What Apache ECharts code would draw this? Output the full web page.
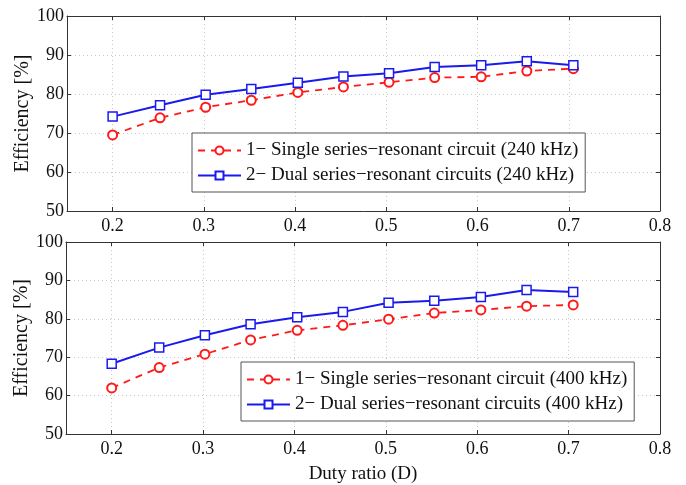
<!DOCTYPE html>
<html>
<head>
<meta charset="utf-8">
<script src="https://cdn.jsdelivr.net/npm/echarts@6/dist/echarts.min.js"></script>
<style>
  html, body { margin: 0; padding: 0; background: #fff; }
  #chart { width: 686px; height: 485px; }
</style>
</head>
<body>
<div id="chart"></div>
<script>
// Duty ratio at which each efficiency was measured
const dutyRatio = [0.2, 0.252, 0.302, 0.352, 0.403, 0.453, 0.503, 0.553, 0.604, 0.654, 0.705];

// 240 kHz measurements [%]
const single240 = [69.5, 73.9, 76.6, 78.4, 80.4, 81.8, 83.0, 84.2, 84.4, 85.9, 86.5];
const dual240   = [74.2, 77.1, 79.8, 81.3, 82.9, 84.5, 85.3, 86.9, 87.4, 88.4, 87.4];

// 400 kHz measurements [%]
const single400 = [62.0, 67.3, 70.8, 74.5, 77.0, 78.3, 79.9, 81.5, 82.3, 83.3, 83.6];
const dual400   = [68.3, 72.5, 75.7, 78.6, 80.4, 81.8, 84.2, 84.7, 85.7, 87.5, 87.0];

const xTicks = [0.2, 0.3, 0.4, 0.5, 0.6, 0.7, 0.8];
const yTicks = [50, 60, 70, 80, 90, 100];

const legendTop = ['1\u2212 Single series\u2212resonant circuit (240 kHz)', '2\u2212 Dual series\u2212resonant circuits (240 kHz)'];
const legendBottom = ['1\u2212 Single series\u2212resonant circuit (400 kHz)', '2\u2212 Dual series\u2212resonant circuits (400 kHz)'];

const FONT = '"Liberation Serif", "DejaVu Serif", serif';
const pairs = (xs, ys) => xs.map((x, i) => [x, ys[i]]);

const grids = [
  { left: 67, right: 26, top: 16, height: 195 },
  { left: 66, right: 26, top: 242, height: 197 }
];

function xAxisFor(gridIndex, position, showLabels) {
  return {
    type: 'value', gridIndex, position,
    min: 0.15, max: 0.8, interval: 0.05,
    axisLine: { show: true, onZero: false, lineStyle: { color: '#333', width: 1 } },
    axisTick: { show: true, inside: true, length: 4, lineStyle: { color: '#333' },
      customValues: xTicks },
    axisLabel: { show: showLabels, color: '#111', fontFamily: FONT, fontSize: 18, margin: 6,
      customValues: xTicks, formatter: v => v.toFixed(1) },
    splitLine: position === 'bottom' ? { show: true, lineStyle: { color: '#c8c8c8', type: [1, 3], width: 1 } } : { show: false },
    name: (gridIndex === 1 && position === 'bottom') ? 'Duty ratio (D)' : '',
    nameLocation: 'middle', nameGap: 31,
    nameTextStyle: { color: '#111', fontFamily: FONT, fontSize: 19 }
  };
}

function yAxisFor(gridIndex, position, showLabels) {
  return {
    type: 'value', gridIndex, position,
    min: 50, max: 100, interval: 10,
    axisLine: { show: true, lineStyle: { color: '#333', width: 1 } },
    axisTick: { show: true, inside: true, length: 4, lineStyle: { color: '#333' } },
    axisLabel: { show: showLabels, color: '#111', fontFamily: FONT, fontSize: 18, margin: 3 },
    splitLine: position === 'left' ? { show: true, lineStyle: { color: '#c8c8c8', type: [1, 3], width: 1 } } : { show: false },
    name: position === 'left' ? 'Efficiency [%]' : '',
    nameLocation: 'middle', nameGap: 34, nameMoveOverlap: false,
    nameTextStyle: { color: '#111', fontFamily: FONT, fontSize: 20 }
  };
}

function singleSeries(name, data, xi, yi) {
  return {
    name, type: 'line', xAxisIndex: xi, yAxisIndex: yi,
    data: pairs(dutyRatio, data),
    symbol: 'emptyCircle', symbolSize: 9,
    lineStyle: { color: '#ff1a1a', width: 1.8, type: [7, 6] },
    itemStyle: { color: '#ff1a1a', borderColor: '#ff1a1a', borderWidth: 1.5 },
    emphasis: { disabled: true }
  };
}

function dualSeries(name, data, xi, yi) {
  return {
    name, type: 'line', xAxisIndex: xi, yAxisIndex: yi,
    data: pairs(dutyRatio, data),
    symbol: 'rect', symbolSize: 9,
    lineStyle: { color: '#1a1aee', width: 2 },
    itemStyle: { color: '#ffffff', borderColor: '#1a1aee', borderWidth: 1.5 },
    emphasis: { disabled: true }
  };
}

function legendFor(names, left, top) {
  return {
    data: names, orient: 'vertical', left, top,
    backgroundColor: '#fff', borderColor: '#555', borderWidth: 1,
    padding: [8, 7, 7, 5], itemGap: 6, itemWidth: 43, itemHeight: 10,
    textStyle: { color: '#111', fontFamily: FONT, fontSize: 19 },
    selectedMode: false
  };
}

const chart = echarts.init(document.getElementById('chart'), null, { renderer: 'canvas' });
chart.setOption({
  animation: false,
  backgroundColor: '#fff',
  grid: grids,
  xAxis: [
    xAxisFor(0, 'bottom', true), xAxisFor(0, 'top', false),
    xAxisFor(1, 'bottom', true), xAxisFor(1, 'top', false)
  ],
  yAxis: [
    yAxisFor(0, 'left', true), yAxisFor(0, 'right', false),
    yAxisFor(1, 'left', true), yAxisFor(1, 'right', false)
  ],
  legend: [
    legendFor(legendTop, 192, 133),
    legendFor(legendBottom, 241, 362)
  ],
  series: [
    singleSeries(legendTop[0], single240, 0, 0),
    dualSeries(legendTop[1], dual240, 0, 0),
    singleSeries(legendBottom[0], single400, 2, 2),
    dualSeries(legendBottom[1], dual400, 2, 2)
  ]
});
</script>
</body>
</html>
